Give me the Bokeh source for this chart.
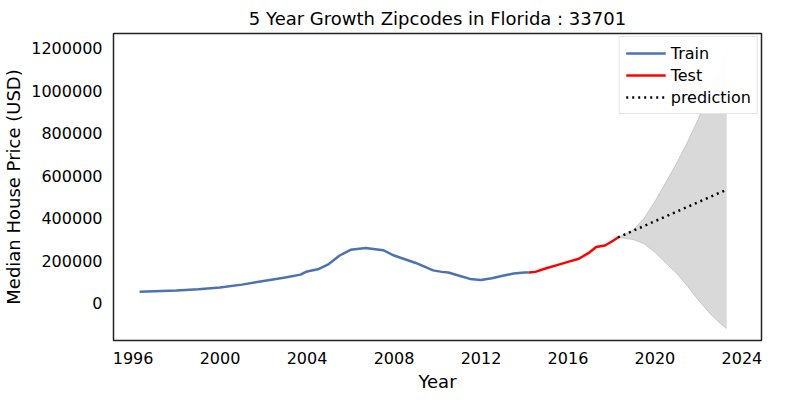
from bokeh.plotting import figure
from bokeh.models import Range1d, FixedTicker, Legend, LegendItem, NumeralTickFormatter
from bokeh.embed import file_html
from bokeh.resources import INLINE

train_x = [1996.3, 1997, 1998, 1999, 2000, 2001, 2002, 2003, 2003.7, 2004, 2004.5, 2005, 2005.5,
           2006, 2006.7, 2007.5, 2008, 2009, 2009.8, 2010.2, 2010.5, 2011, 2011.5, 2012, 2012.5,
           2013, 2013.5, 2014, 2014.2]
train_y = [55000, 57000, 60000, 66000, 75000, 88000, 105000, 122000, 135000, 150000, 160000, 185000, 225000,
           252000, 260000, 250000, 225000, 190000, 155000, 148000, 145000, 130000, 115000, 110000, 118000,
           130000, 140000, 145000, 145000]
test_x = [2014.2, 2014.5, 2015, 2015.5, 2016, 2016.5, 2017, 2017.3, 2017.7, 2018, 2018.3]
test_y = [145000, 148000, 165000, 180000, 195000, 210000, 240000, 265000, 272000, 290000, 310000]
pred_x = [2018.3, 2019.3, 2020.3, 2021.3, 2022.3, 2023.3]
pred_y = [310000, 355000, 400000, 445000, 490000, 535000]
band_x = [2018.3, 2019, 2019.5, 2020, 2020.5, 2021, 2021.5, 2022, 2022.5, 2023, 2023.3]
band_upper = [310000, 345000, 400000, 480000, 570000, 660000, 760000, 870000, 990000, 1110000, 1190000]
band_lower = [310000, 300000, 280000, 240000, 190000, 140000, 80000, 15000, -45000, -95000, -120000]

p = figure(width=769, height=394, output_backend="svg", toolbar_location=None,
           title="5 Year Growth Zipcodes in Florida : 33701",
           x_range=Range1d(1995.1, 2024.9), y_range=Range1d(-175000, 1270000),
           min_border_left=10, min_border_right=8, min_border_top=2, min_border_bottom=2)
p.title.align = "center"
p.title.text_font = "DejaVu Sans"
p.title.text_font_size = "18px"
p.title.text_font_style = "normal"
p.title.text_color = "black"

p.varea(x=band_x, y1=band_lower, y2=band_upper, fill_color="gray", fill_alpha=0.3)
p.line(band_x, band_upper, line_color="gray", line_alpha=0.3)
p.line(band_x, band_lower, line_color="gray", line_alpha=0.3)
r1 = p.line(train_x, train_y, line_color="#4c72b0", line_width=2.5)
r2 = p.line(test_x, test_y, line_color="red", line_width=2.5)
r3 = p.line(pred_x, pred_y, line_color="black", line_width=2.5, line_dash="2 4")

legend = Legend(items=[LegendItem(label="Train", renderers=[r1]),
                       LegendItem(label="Test", renderers=[r2]),
                       LegendItem(label="prediction", renderers=[r3])],
                location="top_right", label_text_font="DejaVu Sans", label_text_font_size="16px",
                label_text_color="black", border_line_color="#cccccc", glyph_width=40,
                spacing=2, margin=3, padding=6)
p.add_layout(legend, "center")

p.xgrid.visible = False
p.ygrid.visible = False
p.outline_line_color = "#222222"
p.outline_line_width = 1.5
p.xaxis.ticker = FixedTicker(ticks=list(range(1996, 2025, 4)))
p.yaxis.ticker = FixedTicker(ticks=list(range(0, 1200001, 200000)))
p.yaxis.formatter = NumeralTickFormatter(format="0")
for ax in (p.xaxis[0], p.yaxis[0]):
    ax.axis_line_color = None
    ax.major_tick_line_color = None
    ax.minor_tick_line_color = None
    ax.major_label_text_font = "DejaVu Sans"
    ax.major_label_text_font_size = "16px"
    ax.major_label_text_color = "black"
    ax.axis_label_text_font = "DejaVu Sans"
    ax.axis_label_text_font_size = "18px"
    ax.axis_label_text_font_style = "normal"
    ax.axis_label_text_color = "black"
    ax.axis_label_standoff = 4
p.xaxis.axis_label = "Year"
p.yaxis.axis_label = "Median House Price (USD)"

open("out.html", "w").write(file_html(p, INLINE))
